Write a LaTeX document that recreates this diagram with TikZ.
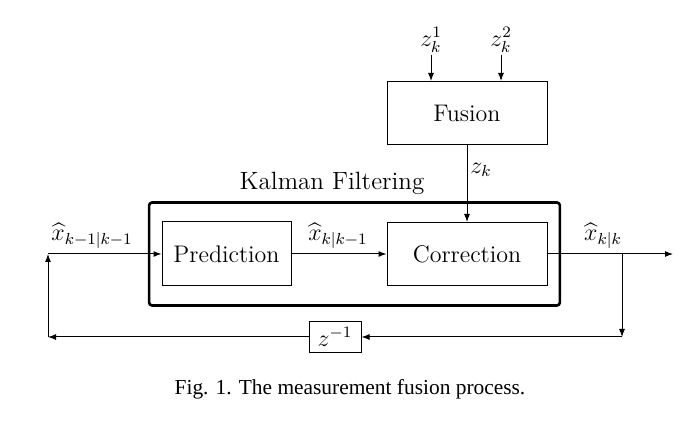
\documentclass[tikz,border=0pt]{standalone}
\usepackage{amsmath,amssymb}
\usepackage{fontspec}
\newfontfamily\capfont{Liberation Serif}
\usepackage{tikz}
\usetikzlibrary{positioning,arrows.meta,fit,backgrounds,calc}

\begin{document}
\begin{tikzpicture}[x=0.5pt,y=-0.5pt,
    block/.style={draw,line width=0.5pt,inner sep=0pt,align=center,font=\large,
                  minimum width=80pt,minimum height=31.5pt},
    frame/.style={draw,line width=1.3pt,rounded corners=1.5pt,
                  inner xsep=6.2pt,inner ysep=9.5pt},
    lbl/.style={font=\large,inner sep=1pt},
    arrow/.style={-{Latex[length=4pt,width=3pt]},line width=0.5pt}]
  \useasboundingbox (0,0) rectangle (700,421);

  \node[block, minimum width=64.5pt, minimum height=32pt] (pred) at (226.5,254) {Prediction};
  \node[block, right=47.5pt of pred] (corr) {Correction};
  \node[block, above=38.5pt of corr] (fusion) {Fusion};
  \node[frame, fit=(pred)(corr)] (kalman) {};
  \node[lbl, font=\fontsize{12.5}{15}\selectfont] (kftitle) at (332,183) {Kalman Filtering};

  \node[draw,line width=0.5pt,font=\large,inner sep=2.5pt,minimum width=26pt,minimum height=15.5pt]
    (delay) at (335,337) {$z^{-1}$};

  % measurements
  \node[lbl, anchor=south] (z1) at (431,55) {$z_k^1$};
  \node[lbl, anchor=south] (z2) at (501,55) {$z_k^2$};
  \draw[arrow] (z1.south) -- (z1.south |- fusion.north);
  \draw[arrow] (z2.south) -- (z2.south |- fusion.north);
  \draw[arrow] (fusion.south) -- (corr.north);
  \node[lbl] (zk) at (481,170) {$z_k$};

  % loop
  \coordinate (out) at (673,254);
  \coordinate (branch) at (622,254);
  \coordinate (br) at (622,337);
  \coordinate (bl) at (48,337);
  \coordinate (tl) at (48,254);

  \draw[arrow] (tl) -- (pred.west);
  \draw[arrow] (pred.east) -- (corr.west);
  \draw[arrow] (corr.east) -- (out);
  \draw[arrow] (branch) -- (br);
  \draw[arrow] (br) -- (delay.east);
  \draw[arrow] (delay.west) -- (bl);
  \draw[arrow] (bl) -- (tl);

  \node[lbl] (xin) at (92,236) {$\widehat{x}_{k-1|k-1}$};
  \node[lbl] (xpred) at (338,236) {$\widehat{x}_{k|k-1}$};
  \node[lbl] (xcorr) at (603,236) {$\widehat{x}_{k|k}$};

  \node[font=\capfont\fontsize{10.7}{13}\selectfont] (caption) at (350,389) {Fig. 1. The measurement fusion process.};
\end{tikzpicture}
\end{document}
